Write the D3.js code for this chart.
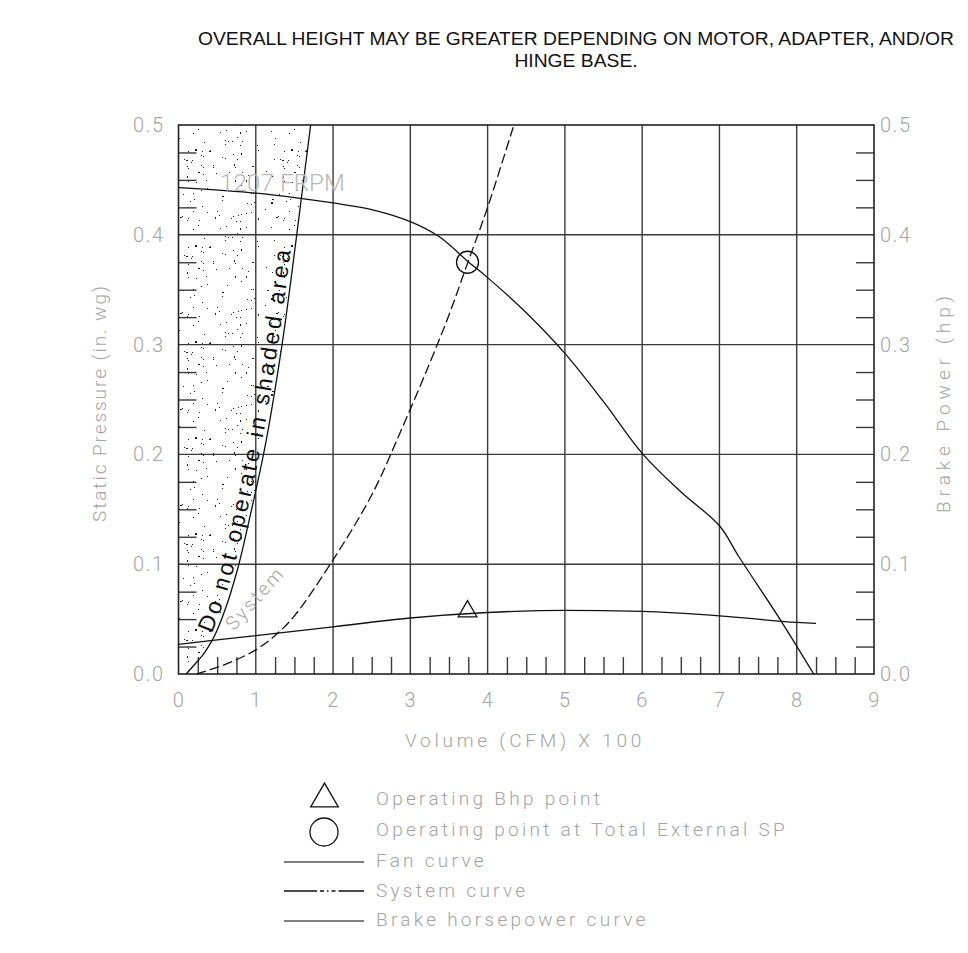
<!DOCTYPE html>
<html>
<head>
<meta charset="utf-8">
<script src="https://cdn.jsdelivr.net/npm/d3@7"></script>
<style>
    body { margin: 0; background: #fff; }
    .cad { font-family: Roboto, "DejaVu Sans", sans-serif; font-weight: 300; fill: #a4a4a4; }
</style>
</head>
<body>
<div id="chart"></div>
<script>
// ---- data ----
const xTicks = [0, 1, 2, 3, 4, 5, 6, 7, 8, 9];
const yTicks = [0.0, 0.1, 0.2, 0.3, 0.4, 0.5];

// fan curve, 1207 FRPM : [volume (CFM x 100), static pressure (in. wg)]
const fanCurve = [[0, 0.443], [1, 0.438], [1.6, 0.433], [2, 0.429], [2.5, 0.423], [3, 0.412],
    [3.38, 0.398], [3.74, 0.376], [4, 0.361], [4.5, 0.329], [5, 0.292], [5.5, 0.248], [6, 0.201],
    [6.5, 0.166], [7, 0.135], [7.25, 0.107], [7.8, 0.048], [8.22, 0]];

// brake horsepower curve : [volume, hp]
const bhpCurve = [[0, 0.027], [1, 0.035], [2, 0.043], [3, 0.051], [4, 0.056], [5, 0.058],
    [6, 0.057], [7, 0.053], [8, 0.047], [8.25, 0.046]];

// system curve : [volume, static pressure]
const systemCurve = [[0.23, 0], [0.5, 0.006], [0.75, 0.013], [1, 0.022], [1.25, 0.035], [1.5, 0.053],
    [2, 0.104], [2.5, 0.163], [2.9, 0.225], [3.25, 0.283], [3.5, 0.327], [3.74, 0.374], [4, 0.425], [4.34, 0.5]];

// edge of the "do not operate" area
const shadedEdge = [[0.1, 0], [0.2, 0.008], [0.3, 0.016], [0.43, 0.03], [0.6, 0.058], [0.77, 0.097],
    [0.93, 0.145], [1.1, 0.2], [1.34, 0.3], [1.53, 0.4], [1.71, 0.5]];

const operatingPoint = [3.74, 0.375];
const bhpPoint = [3.74, 0.057];

const titleLines = ["OVERALL HEIGHT MAY BE GREATER DEPENDING ON MOTOR, ADAPTER, AND/OR", "HINGE BASE."];
const legendLabels = ["Operating Bhp point", "Operating point at Total External SP",
    "Fan curve", "System curve", "Brake horsepower curve"];

// ---- layout ----
const width = 968, height = 953;
const margin = {top: 125, right: 94, bottom: 279, left: 178.5};

const x = d3.scaleLinear().domain([0, 9]).range([margin.left, width - margin.right]);
const y = d3.scaleLinear().domain([0, 0.5]).range([height - margin.bottom, margin.top]);

const svg = d3.select("#chart").append("svg")
    .attr("width", width)
    .attr("height", height);

const defs = svg.append("defs");

// stipple texture for the shaded area (fixed seed, texture only)
let seed = 11;
function next() {
    seed = (seed * 16807) % 2147483647;
    return seed / 2147483647;
}
const tile = 96;
const stipple = defs.append("pattern")
    .attr("id", "stipple")
    .attr("patternUnits", "userSpaceOnUse")
    .attr("width", tile)
    .attr("height", tile);
for (let i = 0; i < 105; i++) {
    let w = next() < 0.12 ? 2 : 1;
    let h = next() < 0.08 ? 2 : 1;
    stipple.append("rect")
        .attr("x", Math.round(next() * tile))
        .attr("y", Math.round(next() * tile))
        .attr("width", w)
        .attr("height", h)
        .attr("fill", "#222");
}

// shaded area
const shadeArea = d3.area()
    .y(d => y(d[1]))
    .x0(x(0))
    .x1(d => x(d[0]))
    .curve(d3.curveMonotoneY);
svg.append("path")
    .attr("d", shadeArea(shadedEdge))
    .attr("fill", "url(#stipple)");

// grid
const grid = svg.append("g").attr("stroke", "#3a3a3a").attr("stroke-width", 1.4);
grid.selectAll("line.v")
    .data(xTicks.slice(1, -1))
    .join("line")
    .attr("x1", d => x(d)).attr("x2", d => x(d))
    .attr("y1", y(0)).attr("y2", y(0.5));
grid.selectAll("line.h")
    .data(yTicks.slice(1, -1))
    .join("line")
    .attr("x1", x(0)).attr("x2", x(9))
    .attr("y1", d => y(d)).attr("y2", d => y(d));

// minor ticks pointing into the plot
const minorX = d3.range(0.25, 9, 0.25).filter(d => d % 1 !== 0);
const minorY = d3.range(0.025, 0.5, 0.025).filter(d => Math.abs(d * 10 - Math.round(d * 10)) > 0.01);

function tickStyle(g) {
    g.select(".domain").remove();
    g.selectAll(".tick line").attr("stroke", "#3a3a3a").attr("stroke-width", 1.4);
    g.selectAll(".tick text").remove();
}
svg.append("g")
    .attr("transform", "translate(0," + y(0) + ")")
    .call(d3.axisBottom(x).tickValues(minorX).tickSize(-17))
    .call(tickStyle);
svg.append("g")
    .attr("transform", "translate(" + x(0) + ",0)")
    .call(d3.axisLeft(y).tickValues(minorY).tickSize(-18))
    .call(tickStyle);
svg.append("g")
    .attr("transform", "translate(" + x(9) + ",0)")
    .call(d3.axisRight(y).tickValues(minorY).tickSize(-18))
    .call(tickStyle);

// frame
svg.append("rect")
    .attr("x", x(0)).attr("y", y(0.5))
    .attr("width", x(9) - x(0)).attr("height", y(0) - y(0.5))
    .attr("fill", "none")
    .attr("stroke", "#222")
    .attr("stroke-width", 1.6);

// tick labels
function labelStyle(g) {
    g.select(".domain").remove();
    g.selectAll(".tick line").remove();
    g.selectAll(".tick text")
        .attr("class", "cad")
        .attr("font-size", 20)
        .style("letter-spacing", "1.5px");
}
svg.append("g")
    .attr("transform", "translate(0," + y(0) + ")")
    .call(d3.axisBottom(x).tickValues(xTicks).tickFormat(d3.format("d")).tickSize(0).tickPadding(19))
    .call(labelStyle);
svg.append("g")
    .attr("transform", "translate(" + x(0) + ",0)")
    .call(d3.axisLeft(y).tickValues(yTicks).tickFormat(d3.format(".1f")).tickSize(0).tickPadding(14))
    .call(labelStyle);
svg.append("g")
    .attr("transform", "translate(" + x(9) + ",0)")
    .call(d3.axisRight(y).tickValues(yTicks).tickFormat(d3.format(".1f")).tickSize(0).tickPadding(6))
    .call(labelStyle);

// stretch CAD style text with letter spacing to a target width
function spread(sel, target) {
    sel.each(function () {
        const t = d3.select(this);
        const w0 = this.getComputedTextLength();
        const n = t.text().length;
        t.style("letter-spacing", ((target - w0) / n) + "px");
    });
}

// axis titles
svg.append("text")
    .attr("class", "cad")
    .attr("font-size", 19)
    .attr("x", 525).attr("y", 747)
    .attr("text-anchor", "middle")
    .text("Volume (CFM) X 100")
    .call(spread, 240);
svg.append("text")
    .attr("class", "cad")
    .attr("font-size", 19)
    .attr("text-anchor", "middle")
    .attr("transform", "translate(106,403) rotate(-90)")
    .text("Static Pressure (in. wg)")
    .call(spread, 238);
svg.append("text")
    .attr("class", "cad")
    .attr("font-size", 19)
    .attr("text-anchor", "middle")
    .attr("transform", "translate(950,402) rotate(-90)")
    .text("Brake Power (hp)")
    .call(spread, 222);

// curves
const smooth = d3.line().x(d => x(d[0])).y(d => y(d[1])).curve(d3.curveCatmullRom.alpha(0.5));
const line = d3.line().x(d => x(d[0])).y(d => y(d[1])).curve(d3.curveMonotoneX);

svg.append("path")
    .attr("d", smooth(fanCurve))
    .attr("fill", "none").attr("stroke", "#111").attr("stroke-width", 1.3);
svg.append("path")
    .attr("d", line(bhpCurve))
    .attr("fill", "none").attr("stroke", "#111").attr("stroke-width", 1.3);
svg.append("path")
    .attr("d", smooth(systemCurve))
    .attr("fill", "none").attr("stroke", "#111").attr("stroke-width", 1.3)
    .attr("stroke-dasharray", "10,4");

const edgeLine = d3.line().x(d => x(d[0])).y(d => y(d[1])).curve(d3.curveMonotoneY);
svg.append("path")
    .attr("d", edgeLine(shadedEdge))
    .attr("fill", "none").attr("stroke", "#111").attr("stroke-width", 1.3);

// markers
svg.append("circle")
    .attr("cx", x(operatingPoint[0])).attr("cy", y(operatingPoint[1]))
    .attr("r", 11)
    .attr("fill", "none").attr("stroke", "#111").attr("stroke-width", 1.3);

const tri = d3.symbol().type(d3.symbolTriangle).size(150);
svg.append("path")
    .attr("d", tri())
    .attr("transform", "translate(" + x(bhpPoint[0]) + "," + y(bhpPoint[1]) + ")")
    .attr("fill", "none").attr("stroke", "#111").attr("stroke-width", 1.3);

// in-plot labels
svg.append("text")
    .attr("class", "cad")
    .attr("font-size", 24)
    .attr("x", 220).attr("y", 191)
    .style("fill", "#b8b8b8")
    .text("1207 FRPM")
    .call(spread, 125);

svg.append("text")
    .attr("class", "cad")
    .attr("font-size", 19)
    .attr("text-anchor", "middle")
    .attr("transform", "translate(255,598) rotate(-48)")
    .attr("dy", "0.35em")
    .text("System")
    .call(spread, 78);

const warnLine = d3.line().x(d => x(d[0]) - 4).y(d => y(d[1])).curve(d3.curveMonotoneY);
defs.append("path").attr("id", "warnPath").attr("d", warnLine(shadedEdge));
svg.append("text")
    .attr("font-family", "'Liberation Sans', Arial, sans-serif")
    .attr("font-size", 23)
    .attr("fill", "#111")
    .append("textPath")
    .attr("href", "#warnPath")
    .attr("startOffset", 50)
    .attr("textLength", 392)
    .attr("lengthAdjust", "spacing")
    .text("Do not operate in shaded area");

// title
const title = svg.append("g")
    .attr("font-family", "'Liberation Sans', Arial, sans-serif")
    .attr("font-size", 18)
    .attr("fill", "#111");
const t1 = title.append("text")
    .attr("x", 198).attr("y", 45)
    .text(titleLines[0]);
const squeeze = 756 / t1.node().getComputedTextLength();
t1.attr("textLength", 756).attr("lengthAdjust", "spacingAndGlyphs");
const t2 = title.append("text")
    .attr("x", 576).attr("y", 67)
    .attr("text-anchor", "middle")
    .text(titleLines[1]);
t2.attr("textLength", t2.node().getComputedTextLength() * squeeze).attr("lengthAdjust", "spacingAndGlyphs");

// legend
const legendY = [798, 829, 860, 890, 919];
const legend = svg.append("g");
legend.append("path")
    .attr("d", d3.symbol().type(d3.symbolTriangle).size(330)())
    .attr("transform", "translate(324.5," + (legendY[0] + 1) + ")")
    .attr("fill", "none").attr("stroke", "#111").attr("stroke-width", 1.3);
legend.append("circle")
    .attr("cx", 324).attr("cy", legendY[1] + 3).attr("r", 14)
    .attr("fill", "none").attr("stroke", "#111").attr("stroke-width", 1.3);
legend.append("line")
    .attr("x1", 284).attr("x2", 364).attr("y1", legendY[2] + 2).attr("y2", legendY[2] + 2)
    .attr("stroke", "#555").attr("stroke-width", 1.5);
legend.append("line")
    .attr("x1", 284).attr("x2", 364).attr("y1", legendY[3] + 1).attr("y2", legendY[3] + 1)
    .attr("stroke", "#111").attr("stroke-width", 1.4)
    .attr("stroke-dasharray", "33,3,4,3,1.5,3,4,3,30");
legend.append("line")
    .attr("x1", 284).attr("x2", 364).attr("y1", legendY[4] + 2).attr("y2", legendY[4] + 2)
    .attr("stroke", "#555").attr("stroke-width", 1.5);

const legendText = legend.selectAll("text")
    .data(legendLabels)
    .join("text")
    .attr("class", "cad")
    .attr("font-size", 19)
    .attr("x", 376)
    .attr("y", (d, i) => legendY[i])
    .attr("dy", "0.35em")
    .text(d => d);
// same letter spacing for all legend rows, set from the longest one
const longest = legendText.filter((d, i) => i === 1).node();
const ls = (412 - longest.getComputedTextLength()) / legendLabels[1].length;
legendText.style("letter-spacing", ls + "px");
</script>
</body>
</html>
